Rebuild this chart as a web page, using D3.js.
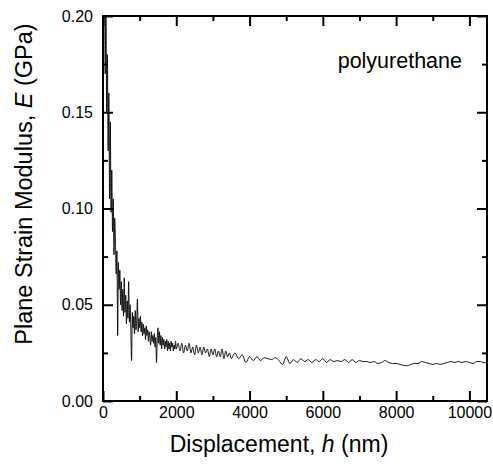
<!DOCTYPE html>
<html>
  <head>
    <meta charset="UTF-8" />
    <title>polyurethane modulus</title>
    <style>
      body { margin: 0; background: #fff; }
      svg { display: block; font-family: "Liberation Sans", Arial, sans-serif; }
    </style>
  </head>
  <body>
    <svg width="493" height="466"></svg>

    <script src="https://d3js.org/d3.v7.min.js"></script>
    <script>
      // displacement h (nm)
      const h = [
        0, 20, 40, 60, 80, 100, 120, 140, 160, 180, 200, 220, 240, 260, 280, 300, 320, 340, 360, 380,
        400, 420, 440, 460, 480, 500, 520, 540, 560, 580, 600, 620, 640, 660, 680, 700, 720, 740, 760, 780,
        800, 820, 840, 860, 880, 900, 920, 940, 960, 980, 1000, 1020, 1040, 1060, 1080, 1100, 1120, 1140, 1160, 1180,
        1200, 1220, 1240, 1260, 1280, 1300, 1320, 1340, 1360, 1380, 1400, 1420, 1440, 1460, 1480, 1500, 1520, 1540, 1560, 1580,
        1600, 1620, 1640, 1660, 1680, 1700, 1720, 1740, 1760, 1780, 1800, 1820, 1840, 1860, 1880, 1900, 1920, 1940, 1960, 1980,
        2000, 2050, 2100, 2150, 2200, 2250, 2300, 2350, 2400, 2450, 2500, 2550, 2600, 2650, 2700, 2750, 2800, 2850, 2900, 2950,
        3000, 3050, 3100, 3150, 3200, 3250, 3300, 3350, 3400, 3450, 3500, 3600, 3700, 3800, 3900, 4000, 4100, 4200, 4300, 4400,
        4500, 4600, 4700, 4800, 4900, 5000, 5100, 5200, 5300, 5400, 5500, 5600, 5700, 5800, 5900, 6000, 6100, 6200, 6300, 6400,
        6500, 6600, 6700, 6800, 6900, 7000, 7100, 7200, 7300, 7400, 7500, 7600, 7700, 7800, 7900, 8000, 8100, 8200, 8300, 8400,
        8500, 8600, 8700, 8800, 8900, 9000, 9100, 9200, 9300, 9400, 9500, 9600, 9700, 9800, 9900, 10000, 10100, 10200, 10300, 10400,
        10480
      ];
      // plane strain modulus E (GPa)
      const E = [
        0.24, 0.2, 0.225, 0.17, 0.205, 0.15, 0.18, 0.13, 0.16, 0.105, 0.145, 0.098, 0.12, 0.088, 0.105, 0.076, 0.095, 0.083, 0.066, 0.078,
        0.034, 0.072, 0.058, 0.068, 0.05, 0.062, 0.047, 0.058, 0.044, 0.064, 0.046, 0.055, 0.04, 0.052, 0.043, 0.062, 0.041, 0.05, 0.036, 0.021,
        0.046, 0.038, 0.044, 0.035, 0.047, 0.037, 0.042, 0.053, 0.036, 0.043, 0.038, 0.044, 0.036, 0.041, 0.034, 0.04, 0.035, 0.038, 0.032, 0.039,
        0.034, 0.037, 0.031, 0.036, 0.033, 0.029, 0.036, 0.031, 0.034, 0.03, 0.035, 0.028, 0.033, 0.02, 0.032, 0.038, 0.03, 0.036, 0.029, 0.034,
        0.027, 0.033, 0.029, 0.032, 0.027, 0.031, 0.028, 0.032, 0.026, 0.031, 0.027, 0.03, 0.026, 0.031, 0.028, 0.03, 0.026, 0.029, 0.027, 0.031,
        0.027, 0.03, 0.026, 0.03, 0.025, 0.029, 0.026, 0.03, 0.025, 0.028, 0.024, 0.029, 0.025, 0.028, 0.024, 0.028, 0.025, 0.027, 0.023, 0.027,
        0.024, 0.027, 0.023, 0.026, 0.023, 0.027, 0.022, 0.026, 0.023, 0.025, 0.022, 0.025, 0.022, 0.024, 0.02, 0.023, 0.021, 0.023, 0.021, 0.0225,
        0.022, 0.0215, 0.0225, 0.021, 0.019, 0.023, 0.0195, 0.0215, 0.02, 0.022, 0.0205, 0.0215, 0.02, 0.0215, 0.0205, 0.022, 0.02, 0.0215, 0.0205, 0.021,
        0.0205, 0.0215, 0.02, 0.0215, 0.02, 0.021, 0.0205, 0.0205, 0.02, 0.0205, 0.0195, 0.02, 0.021, 0.02, 0.0195, 0.0195, 0.019, 0.0185, 0.0183, 0.019,
        0.0195, 0.0195, 0.0205, 0.02, 0.0195, 0.019, 0.0195, 0.019, 0.0195, 0.02, 0.0205, 0.02, 0.0205, 0.02, 0.0205, 0.02, 0.0195, 0.0205, 0.0205, 0.0198,
        0.0205
      ];

      const xTicks = [0, 2000, 4000, 6000, 8000, 10000];
      const xMinor = [1000, 3000, 5000, 7000, 9000];
      const yTicks = [0, 0.05, 0.1, 0.15, 0.2];
      const yMinor = [0.025, 0.075, 0.125, 0.175];

      const mLeft = 103, mRight = 487, mTop = 16, mBottom = 401;

      const x = d3.scaleLinear().domain([0, 10480]).range([mLeft, mRight]);
      const y = d3.scaleLinear().domain([0, 0.2]).range([mBottom, mTop]);

      const svg = d3.select("svg");

      svg.append("clipPath").attr("id", "clip")
        .append("rect")
        .attr("x", mLeft).attr("y", mTop)
        .attr("width", mRight - mLeft).attr("height", mBottom - mTop);

      // 曲线
      const pts = h.map((d, i) => [d, E[i]]);
      svg.append("path")
        .datum(pts)
        .attr("clip-path", "url(#clip)")
        .attr("fill", "none")
        .attr("stroke", "#000")
        .attr("stroke-width", 0.9)
        .attr("d", d3.line().x((d) => x(d[0])).y((d) => y(d[1])).curve(d3.curveMonotoneX));

      // 坐标轴（刻度朝内）
      const fmtY = d3.format(".2f");
      svg.append("g").attr("transform", `translate(0,${mBottom})`)
        .call(d3.axisBottom(x).tickValues(xTicks).tickSize(-10).tickPadding(6).tickFormat(d3.format("d")));
      svg.append("g").attr("transform", `translate(0,${mBottom})`)
        .call(d3.axisBottom(x).tickValues(xMinor).tickSize(-5).tickFormat(""));
      svg.append("g").attr("transform", `translate(0,${mTop})`)
        .call(d3.axisTop(x).tickValues(xTicks).tickSize(-10).tickFormat(""));
      svg.append("g").attr("transform", `translate(0,${mTop})`)
        .call(d3.axisTop(x).tickValues(xMinor).tickSize(-5).tickFormat(""));

      svg.append("g").attr("transform", `translate(${mLeft},0)`)
        .call(d3.axisLeft(y).tickValues(yTicks).tickSize(-10).tickPadding(10).tickFormat(fmtY));
      svg.append("g").attr("transform", `translate(${mLeft},0)`)
        .call(d3.axisLeft(y).tickValues(yMinor).tickSize(-5).tickFormat(""));
      svg.append("g").attr("transform", `translate(${mRight},0)`)
        .call(d3.axisRight(y).tickValues(yTicks).tickSize(-10).tickFormat(""));
      svg.append("g").attr("transform", `translate(${mRight},0)`)
        .call(d3.axisRight(y).tickValues(yMinor).tickSize(-5).tickFormat(""));

      svg.selectAll(".domain").remove();
      svg.selectAll(".tick line").attr("stroke", "#000").attr("stroke-width", 2);
      svg.selectAll(".tick text")
        .attr("fill", "#000")
        .style("font-size", "16px")
        .style("font-family", '"Liberation Sans", Arial, sans-serif');

      // 边框
      svg.append("rect")
        .attr("x", mLeft).attr("y", mTop)
        .attr("width", mRight - mLeft).attr("height", mBottom - mTop)
        .attr("fill", "none").attr("stroke", "#000").attr("stroke-width", 2);

      // 标题
      const xt = svg.append("text")
        .attr("x", 279)
        .attr("y", 452)
        .attr("text-anchor", "middle")
        .style("font-size", "23px");
      xt.append("tspan").text("Displacement, ");
      xt.append("tspan").attr("font-style", "italic").text("h");
      xt.append("tspan").text(" (nm)");

      const yt = svg.append("text")
        .attr("transform", `translate(32,184) rotate(-90)`)
        .attr("text-anchor", "middle")
        .style("font-size", "23.5px");
      yt.append("tspan").text("Plane Strain Modulus, ");
      yt.append("tspan").attr("font-style", "italic").text("E");
      yt.append("tspan").text(" (GPa)");

      svg.append("text")
        .attr("x", 462)
        .attr("y", 68)
        .attr("text-anchor", "end")
        .style("font-size", "21.5px")
        .text("polyurethane");
    </script>
  </body>
</html>
